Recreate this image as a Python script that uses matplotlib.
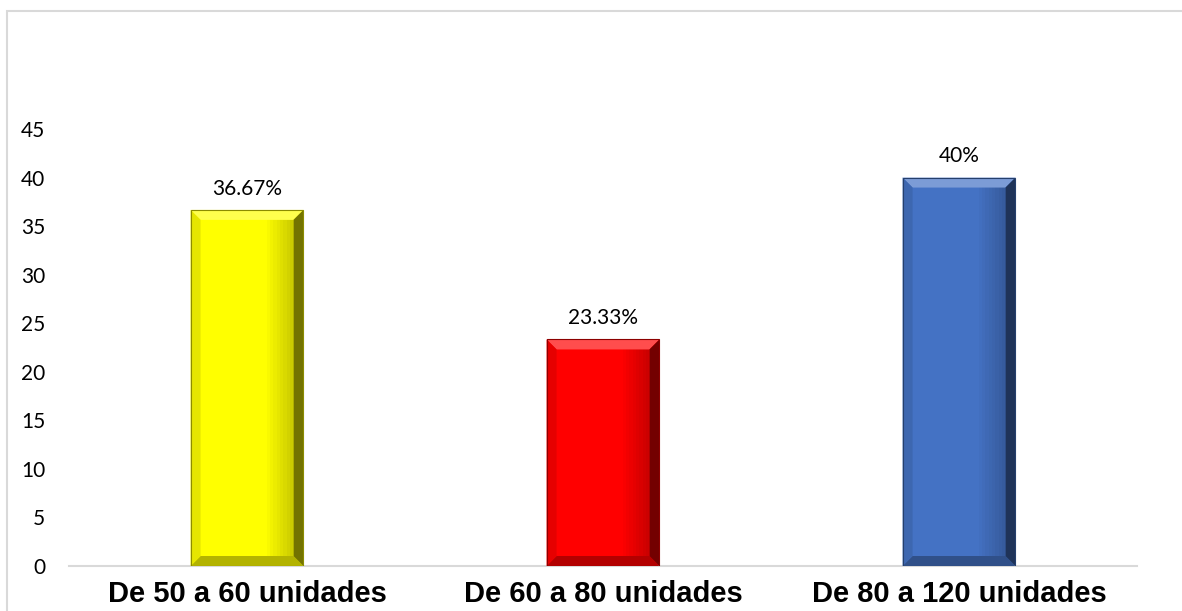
import matplotlib
matplotlib.use('Agg')

import matplotlib.pyplot as plt
import matplotlib.colors as mcolors
from matplotlib.patches import Polygon, Rectangle
import numpy as np

categories = ['De 50 a 60 unidades', 'De 60 a 80 unidades', 'De 80 a 120 unidades']
values = [36.67, 23.33, 40]
labels = ['36.67%', '23.33%', '40%']
colors = ['#FFFF00', '#FF0000', '#4472C4']


def shade(color, f):
    # f > 0 aclara hacia blanco, f < 0 oscurece hacia negro
    c = np.array(mcolors.to_rgb(color))
    if f >= 0:
        return tuple(c + (1 - c) * f)
    return tuple(c * (1 + f))


fig = plt.figure(figsize=(11.82, 6.11), dpi=100)
ax = fig.add_axes([69 / 1182, 45 / 611, (1137 - 69) / 1182, (566 - 129) / 611])

# borde del gráfico
fig.patches.append(Rectangle((7 / 1182, -0.5), 2, 1 - 11 / 611 + 0.5,
                             transform=fig.transFigure, fill=False,
                             edgecolor='#D9D9D9', linewidth=1.5))

x = np.arange(len(categories))
width = 0.317
bars = ax.bar(x, values, width, color=colors, edgecolor='none', zorder=2)

ax.set_xlim(-0.5, len(categories) - 0.5)
ax.set_ylim(0, 45)
ax.set_yticks(np.arange(0, 46, 5))
ax.set_xticks(x)
ax.set_xticklabels(categories, fontsize=21, fontweight='bold', family='Liberation Sans')
for lbl in ax.get_yticklabels():
    lbl.set_family('Lato')
    lbl.set_fontsize(15)
ax.tick_params(axis='y', length=0, pad=17, colors='#000000')
ax.tick_params(axis='x', length=0, pad=10)

for s in ['top', 'right', 'left']:
    ax.spines[s].set_visible(False)
ax.spines['bottom'].set_color('#D9D9D9')
ax.spines['bottom'].set_linewidth(1.5)

# efecto bisel
bev_px = 10
ax_w = (1137 - 69)
ax_h = (566 - 129)
dx = bev_px / ax_w * (len(categories))
dy = bev_px / ax_h * 45
for bar, col in zip(bars, colors):
    x0 = bar.get_x()
    x1 = x0 + bar.get_width()
    y0 = 0
    y1 = bar.get_height()
    # sombreado suave (degradado) en el lado derecho de la cara
    n = 8
    for k in range(n):
        ax.add_patch(Rectangle((x1 - dx - (n - k) * dx / 3, y0), dx / 3, y1,
                               facecolor=shade(col, -0.2 * (k + 1) / n),
                               edgecolor='none', zorder=2.5))
    faces = [
        ([(x0, y1), (x1, y1), (x1 - dx, y1 - dy), (x0 + dx, y1 - dy)], shade(col, 0.3)),
        ([(x0, y0), (x1, y0), (x1 - dx, y0 + dy), (x0 + dx, y0 + dy)], shade(col, -0.3)),
        ([(x0, y0), (x0 + dx, y0 + dy), (x0 + dx, y1 - dy), (x0, y1)], shade(col, -0.1)),
        ([(x1, y0), (x1 - dx, y0 + dy), (x1 - dx, y1 - dy), (x1, y1)], shade(col, -0.55)),
    ]
    for pts, c in faces:
        ax.add_patch(Polygon(pts, closed=True, facecolor=c, edgecolor='none', zorder=3))
    ax.add_patch(Rectangle((x0, y0), x1 - x0, y1, fill=False,
                           edgecolor=shade(col, -0.45), linewidth=0.8, zorder=4))

for xi, v, t in zip(x, values, labels):
    ax.annotate(t, (xi, v), xytext=(0, 8), textcoords='offset points',
                ha='center', va='bottom', fontsize=15, family='Lato')

fig.savefig('out.png', dpi=100)
